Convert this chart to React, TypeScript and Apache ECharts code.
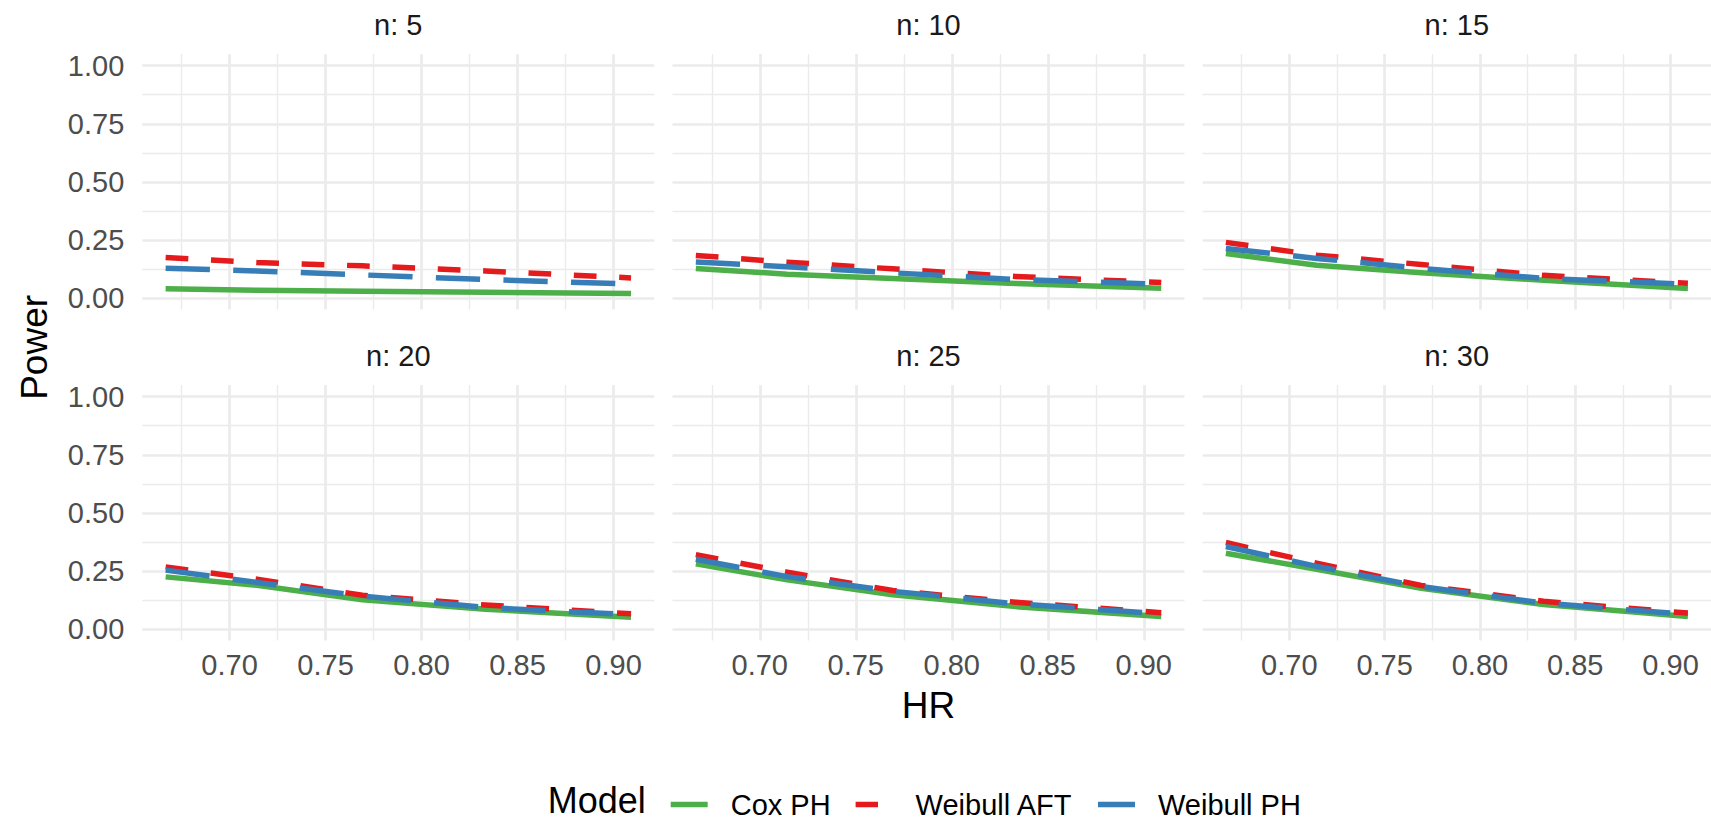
import React, { useEffect, useRef } from "react";
import * as echarts from "echarts";

// Hazard ratios evaluated in every panel
const HR = [0.6667, 0.7143, 0.7692, 0.8333, 0.9091];

// Sample size per facet
const PANELS = ["n: 5", "n: 10", "n: 15", "n: 20", "n: 25", "n: 30"];

// Power by model, one row per facet (same order as PANELS)
const coxPH = [
  [0.039, 0.033, 0.029, 0.024, 0.019],
  [0.127, 0.102, 0.084, 0.062, 0.042],
  [0.191, 0.141, 0.108, 0.076, 0.040],
  [0.224, 0.188, 0.125, 0.085, 0.050],
  [0.280, 0.211, 0.147, 0.096, 0.053],
  [0.326, 0.257, 0.175, 0.105, 0.053],
];
const weibullAFT = [
  [0.174, 0.152, 0.138, 0.116, 0.086],
  [0.183, 0.154, 0.125, 0.092, 0.066],
  [0.239, 0.184, 0.144, 0.097, 0.063],
  [0.267, 0.214, 0.145, 0.103, 0.065],
  [0.320, 0.244, 0.165, 0.115, 0.070],
  [0.372, 0.283, 0.187, 0.119, 0.068],
];
const weibullPH = [
  [0.128, 0.116, 0.099, 0.079, 0.060],
  [0.155, 0.134, 0.108, 0.079, 0.059],
  [0.213, 0.170, 0.127, 0.084, 0.059],
  [0.253, 0.200, 0.141, 0.092, 0.061],
  [0.300, 0.225, 0.162, 0.108, 0.065],
  [0.355, 0.269, 0.182, 0.111, 0.062],
];

// Axis breaks
const X_MAJOR = [0.7, 0.75, 0.8, 0.85, 0.9];
const X_MINOR = [0.675, 0.725, 0.775, 0.825, 0.875];
const Y_MAJOR = [0, 0.25, 0.5, 0.75, 1];
const Y_MINOR = [0.125, 0.375, 0.625, 0.875];

const LINE_W = 5.5;

const MODELS = [
  {
    name: "Cox PH",
    color: "#4DAF4A",
    dash: "solid" as any,
    icon: "rect",
    data: coxPH,
  },
  {
    name: "Weibull AFT",
    color: "#E41A1C",
    dash: [22.7, 22.7],
    // one dash followed by a gap, across the full key width
    icon: "path://M0,0H22.4V5.5H0Z M37,0L37,5.5L37,0Z",
    data: weibullAFT,
  },
  {
    name: "Weibull PH",
    color: "#377EB8",
    dash: [44.3, 23.3],
    icon: "rect",
    data: weibullPH,
  },
];

const FONT = "'Liberation Sans', Arial, Helvetica, sans-serif";
const GRID_COLOR = "#EBEBEB";

// Panel layout (pixels)
const COL_LEFT = [142.3, 672.5, 1202.7];
const ROW_TOP = [54.1, 385.1];
const PANEL_W = 512;
const PANEL_H = 255.4;

// x range with 5% padding on each side of the data range
const X_MIN = 0.65455;
const X_MAX = 0.92121;

export default function App() {
  const ref = useRef<HTMLDivElement>(null);

  useEffect(() => {
    if (!ref.current) return;
    const chart = echarts.init(ref.current, undefined, { renderer: "svg" });

    const grids: any[] = [];
    const xAxes: any[] = [];
    const yAxes: any[] = [];
    const series: any[] = [];

    PANELS.forEach((title, p) => {
      const row = Math.floor(p / 3);
      const col = p % 3;
      grids.push({
        left: COL_LEFT[col],
        top: ROW_TOP[row],
        width: PANEL_W,
        height: PANEL_H,
        containLabel: false,
      });

      // major x axis (bottom)
      xAxes.push({
        type: "value",
        gridIndex: p,
        position: "bottom",
        min: X_MIN,
        max: X_MAX,
        axisLine: { show: false, onZero: false },
        axisTick: { show: false, customValues: X_MAJOR },
        axisLabel: {
          show: row === 1,
          customValues: X_MAJOR,
          formatter: (v: number) => v.toFixed(2),
          fontSize: 29,
          color: "#4D4D4D",
          margin: 10,
          fontFamily: FONT,
        },
        splitLine: { show: true, lineStyle: { color: GRID_COLOR, width: 2.7 } },
        name: p === 4 ? "HR" : "",
        nameLocation: "middle",
        nameGap: 46,
        nameTextStyle: { fontSize: 37, color: "#000", fontFamily: FONT },
      });
      // minor x axis (top) carrying the facet strip title
      xAxes.push({
        type: "value",
        gridIndex: p,
        position: "top",
        min: X_MIN,
        max: X_MAX,
        axisLine: { show: false, onZero: false },
        axisTick: { show: false, customValues: X_MINOR },
        axisLabel: { show: false, customValues: X_MINOR },
        splitLine: { show: true, lineStyle: { color: GRID_COLOR, width: 1.4 } },
        name: title,
        nameLocation: "middle",
        nameGap: 15,
        nameTextStyle: { fontSize: 29, color: "#1A1A1A", fontFamily: FONT },
      });

      // major y axis (left)
      yAxes.push({
        type: "value",
        gridIndex: p,
        position: "left",
        min: -0.05,
        max: 1.05,
        axisLine: { show: false, onZero: false },
        axisTick: { show: false, customValues: Y_MAJOR },
        axisLabel: {
          show: col === 0,
          customValues: Y_MAJOR,
          formatter: (v: number) => v.toFixed(2),
          fontSize: 29,
          color: "#4D4D4D",
          margin: 18,
          fontFamily: FONT,
        },
        splitLine: { show: true, lineStyle: { color: GRID_COLOR, width: 2.7 } },
      });
      // minor y axis (right)
      yAxes.push({
        type: "value",
        gridIndex: p,
        position: "right",
        min: -0.05,
        max: 1.05,
        axisLine: { show: false, onZero: false },
        axisTick: { show: false, customValues: Y_MINOR },
        axisLabel: { show: false, customValues: Y_MINOR },
        splitLine: { show: true, lineStyle: { color: GRID_COLOR, width: 1.4 } },
      });

      MODELS.forEach((m, k) => {
        series.push({
          type: "line",
          name: m.name,
          xAxisIndex: 2 * p,
          yAxisIndex: 2 * p,
          data: HR.map((x, i) => [x, m.data[p][i]]),
          symbol: "none",
          showSymbol: false,
          smooth: false,
          silent: true,
          z: 3 + k,
          itemStyle: { color: m.color },
          lineStyle: {
            color: m.color,
            width: LINE_W,
            type: m.dash,
            cap: "butt",
            join: "round",
          },
        });
      });
    });

    chart.setOption({
      animation: false,
      backgroundColor: "#FFFFFF",
      textStyle: { fontFamily: FONT },
      grid: grids,
      xAxis: xAxes,
      yAxis: yAxes,
      series,
      legend: {
        data: MODELS.map((m) => ({ name: m.name, icon: m.icon })),
        left: 670.7,
        top: 790,
        padding: 0,
        itemWidth: 37,
        itemHeight: LINE_W,
        itemGap: 25,
        selectedMode: false,
        itemStyle: { borderWidth: 0 },
        textStyle: {
          fontSize: 29,
          lineHeight: 26,
          color: "#000",
          fontFamily: FONT,
          padding: [0, 0, 0, 18],
        },
      },
      graphic: [
        {
          type: "text",
          x: 34,
          y: 347.4,
          rotation: Math.PI / 2,
          style: {
            text: "Power",
            fontSize: 37,
            fontFamily: FONT,
            fill: "#000",
            align: "center",
            verticalAlign: "middle",
            textAlign: "center",
            textVerticalAlign: "middle",
          },
        },
        {
          type: "text",
          x: 547.7,
          y: 800,
          style: {
            text: "Model",
            fontSize: 36,
            lineHeight: 26,
            fontFamily: FONT,
            fill: "#000",
            align: "left",
            verticalAlign: "middle",
            textAlign: "left",
            textVerticalAlign: "middle",
          },
        },
      ],
    });

    return () => chart.dispose();
  }, []);

  return (
    <div
      ref={ref}
      style={{
        position: "fixed",
        left: 0,
        top: 0,
        width: 1711,
        height: 821,
        background: "#FFFFFF",
      }}
    />
  );
}
